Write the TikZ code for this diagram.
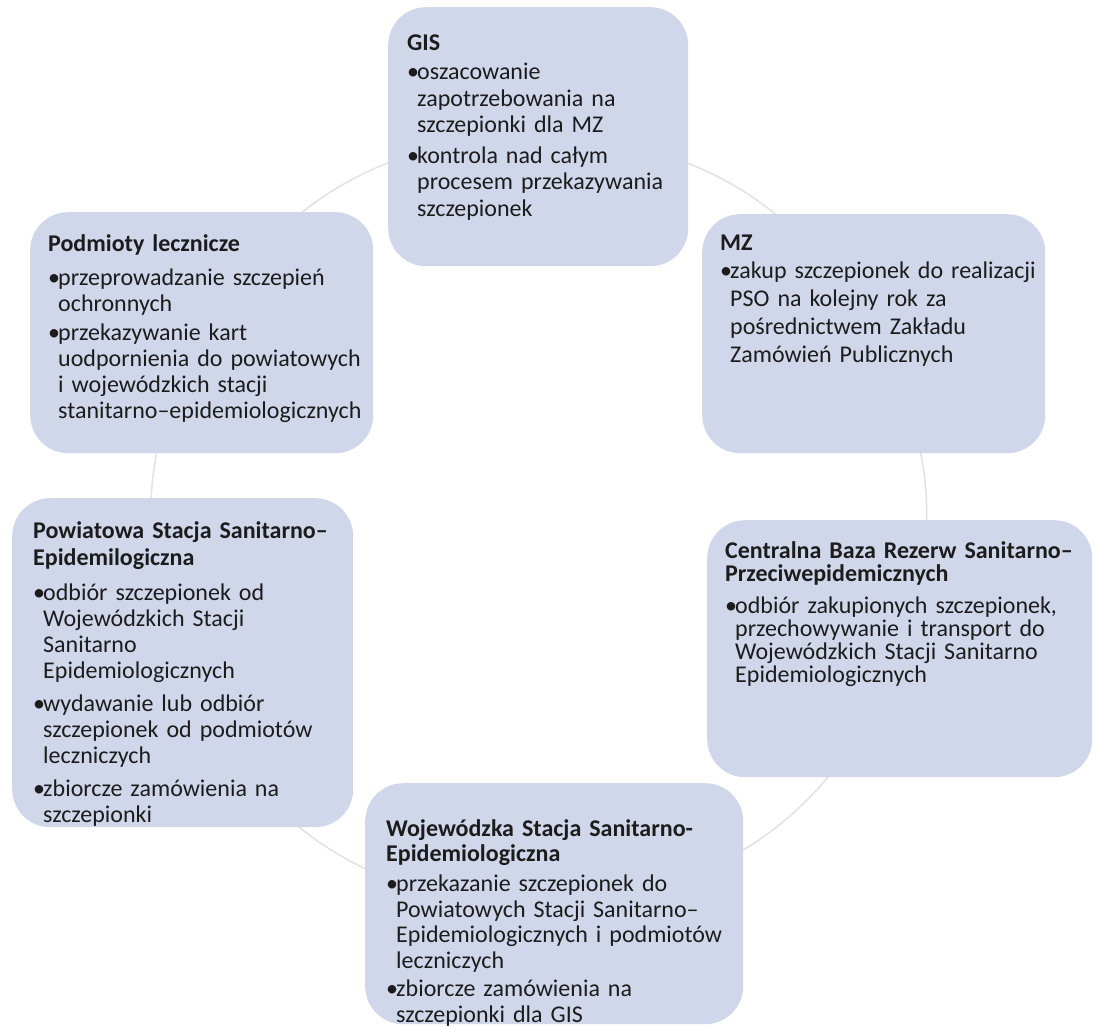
\documentclass[tikz,border=0pt]{standalone}
\usepackage{fontspec}
\setmainfont{Carlito}
\usetikzlibrary{backgrounds}
\definecolor{boxfill}{RGB}{208,215,234}
\definecolor{conncol}{RGB}{226,226,226}
\definecolor{txtcol}{RGB}{28,28,28}
\newcommand{\bul}{\makebox[10pt][l]{•}}
\newcommand{\ind}{\hspace*{10pt}}
\newcommand{\fst}{\rule{0pt}{18pt}}
\begin{document}
\begin{tikzpicture}[x=1pt,y=-1pt]
\tikzset{
  panel/.style={draw=none, fill=boxfill, rounded corners=38pt, inner sep=0pt, anchor=north west},
  txt/.style={anchor=north west, inner sep=0pt, text width=390pt, align=left, text=txtcol},
  conn/.style={draw=conncol, line width=1.5pt},
}
\useasboundingbox (0,0) rectangle (1093,1027);

% panels
\node[panel, minimum width=300pt, minimum height=259pt] (gis) at (388,7) {};
\node[panel, minimum width=343pt, minimum height=239pt] (mz) at (702,214) {};
\node[panel, minimum width=385pt, minimum height=257pt] (cen) at (707,520) {};
\node[panel, minimum width=378pt, minimum height=241pt] (woj) at (365,783) {};
\node[panel, minimum width=341pt, minimum height=329pt] (pow) at (12,498) {};
\node[panel, minimum width=343pt, minimum height=241pt] (pod) at (30,212) {};

% texts
\node[txt, font=\fontsize{24}{26.5}\selectfont] (gist) at (407,32) {\fst\textbf{GIS}\\[3pt]
\bul oszacowanie\\
\ind zapotrzebowania na\\
\ind szczepionki dla MZ\\[4pt]
\bul kontrola nad całym\\
\ind procesem przekazywania\\
\ind szczepionek};

\node[txt, font=\fontsize{24}{28}\selectfont] (mzt) at (720,232) {\fst\textbf{MZ}\\
\bul zakup szczepionek do realizacji\\
\ind PSO na kolejny rok za\\
\ind pośrednictwem Zakładu\\
\ind Zamówień Publicznych};

\node[txt, font=\fontsize{24}{23}\selectfont] (cent) at (725,540) {\fst\textbf{Centralna Baza Rezerw Sanitarno–}\\
\textbf{Przeciwepidemicznych}\\[9pt]
\bul odbiór zakupionych szczepionek,\\
\ind przechowywanie i transport do\\
\ind Wojewódzkich Stacji Sanitarno\\
\ind Epidemiologicznych};

\node[txt, font=\fontsize{24}{25.5}\selectfont] (wojt) at (386,818) {\fst\textbf{Wojewódzka Stacja Sanitarno-}\\
\textbf{Epidemiologiczna}\\[4.5pt]
\bul przekazanie szczepionek  do\\
\ind Powiatowych Stacji Sanitarno–\\
\ind Epidemiologicznych i podmiotów\\
\ind leczniczych\\[3pt]
\bul zbiorcze zamówienia na\\
\ind szczepionki dla GIS};

\node[txt, font=\fontsize{24}{26}\selectfont] (powt) at (33,520) {\fst\textbf{Powiatowa Stacja Sanitarno–}\\[1pt]
\textbf{Epidemilogiczna}\\[9pt]
\bul odbiór szczepionek od\\
\ind Wojewódzkich Stacji\\
\ind Sanitarno\\
\ind Epidemiologicznych\\[7pt]
\bul wydawanie lub odbiór\\
\ind szczepionek od podmiotów\\
\ind leczniczych\\[7pt]
\bul zbiorcze zamówienia na\\
\ind szczepionki};

\node[txt, font=\fontsize{24}{26}\selectfont] (podt) at (48,233) {\fst\textbf{Podmioty lecznicze}\\[8pt]
\bul przeprowadzanie szczepień\\
\ind ochronnych\\[3pt]
\bul przekazywanie kart\\
\ind uodpornienia do powiatowych\\
\ind i wojewódzkich stacji\\
\ind stanitarno–epidemiologicznych};

% connectors behind the panels
\begin{scope}[on background layer]
\fill[white] (0,0) rectangle (1093,1027);
\draw[conn] (gis.center) to[bend left=30] (mz.center);
\draw[conn] (mz.center) to[bend left=25] (cen.center);
\draw[conn] (cen.center) to[bend left=34] (woj.center);
\draw[conn] (woj.center) to[bend left=36] (pow.center);
\draw[conn] (pow.center) to[bend left=25] (pod.center);
\draw[conn] (pod.center) to[bend left=30] (gis.center);
\end{scope}
\end{tikzpicture}
\end{document}
